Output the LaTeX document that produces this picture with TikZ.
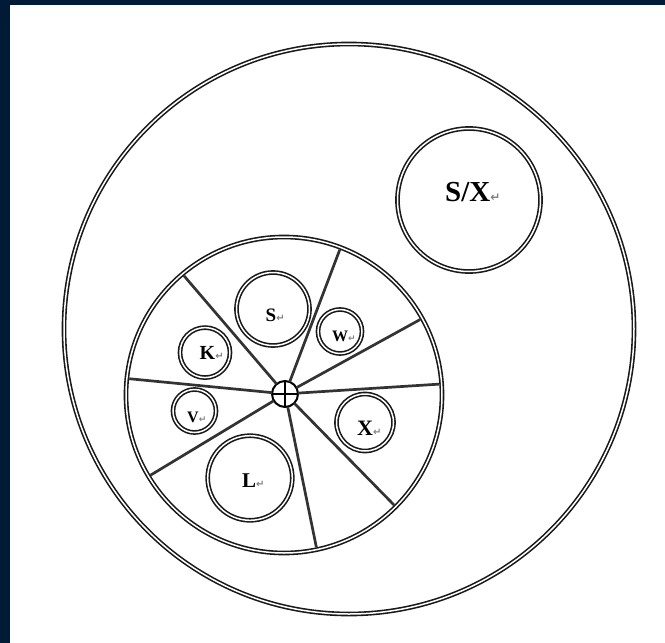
\documentclass[tikz,border=0pt]{standalone}
\usepackage{fontspec}
\setmainfont{Liberation Serif}
\newfontfamily\symfont{DejaVu Sans}
\definecolor{navy}{RGB}{1,27,54}
\newcommand\retmark[1]{{\symfont\color{black!50}\fontsize{#1}{#1}\selectfont\char"21B5}}
\begin{document}
\begin{tikzpicture}[x=1pt,y=-1pt,
  ring/.style={circle, draw=black!90, line width=1.6pt, double=white, double distance=1.5pt,
               inner sep=0pt, outer sep=0pt, minimum size=#1},
  spoke/.style={draw=black!80, line width=2.7pt, shorten >=2.4pt},
  lbl/.style={anchor=base west, inner sep=0pt, font=\bfseries\fontsize{#1}{#1}\selectfont},
]
\useasboundingbox (0,0) rectangle (665,643);
\fill[navy] (0,0) rectangle (665,643);
\fill[white] (10,5) rectangle (665,643);

% big rings
\node[ring=570pt] (outer) at (349,329) {};
\node[ring=143pt] (sxc) at (469,200) {};
\node[ring=316pt] (pie) at (284,395) {};

% centre symbol
\node[circle, draw, line width=2pt, minimum size=26pt, inner sep=0pt, outer sep=0pt] (plus) at (285,394) {};
\draw[line width=1.8pt] (plus.north) -- (plus.south) (plus.west) -- (plus.east);

% spokes
\foreach \a in {130,69,29,4,-45,-78,211.5,174}
  \draw[spoke] (plus.\a) -- (pie.\a);

% small rings
\node[ring=73pt]   (c-s) at (273,309) {};
\node[ring=44pt]   (c-w) at (340,331.5) {};
\node[ring=50pt]   (c-k) at (205,352.6) {};
\node[ring=43pt]   (c-v) at (194.5,411) {};
\node[ring=84.6pt] (c-l) at (250,478) {};
\node[ring=57pt]   (c-x) at (365,422.5) {};

% labels
\node[lbl=29] (t-sx) at (445,201) {S/X\retmark{12}};
\node[lbl=19] (t-s) at (265.5,321.5) {S\retmark{10}};
\node[lbl=20] (t-k) at (199.5,359.5) {K\retmark{10}};
\node[lbl=16] (t-v) at (187,422.5) {V\retmark{9}};
\node[lbl=16] (t-w) at (332,341) {W\retmark{9}};
\node[lbl=22] (t-x) at (357,435) {X\retmark{10}};
\node[lbl=21] (t-l) at (242,487.7) {L\retmark{10}};
\end{tikzpicture}
\end{document}
